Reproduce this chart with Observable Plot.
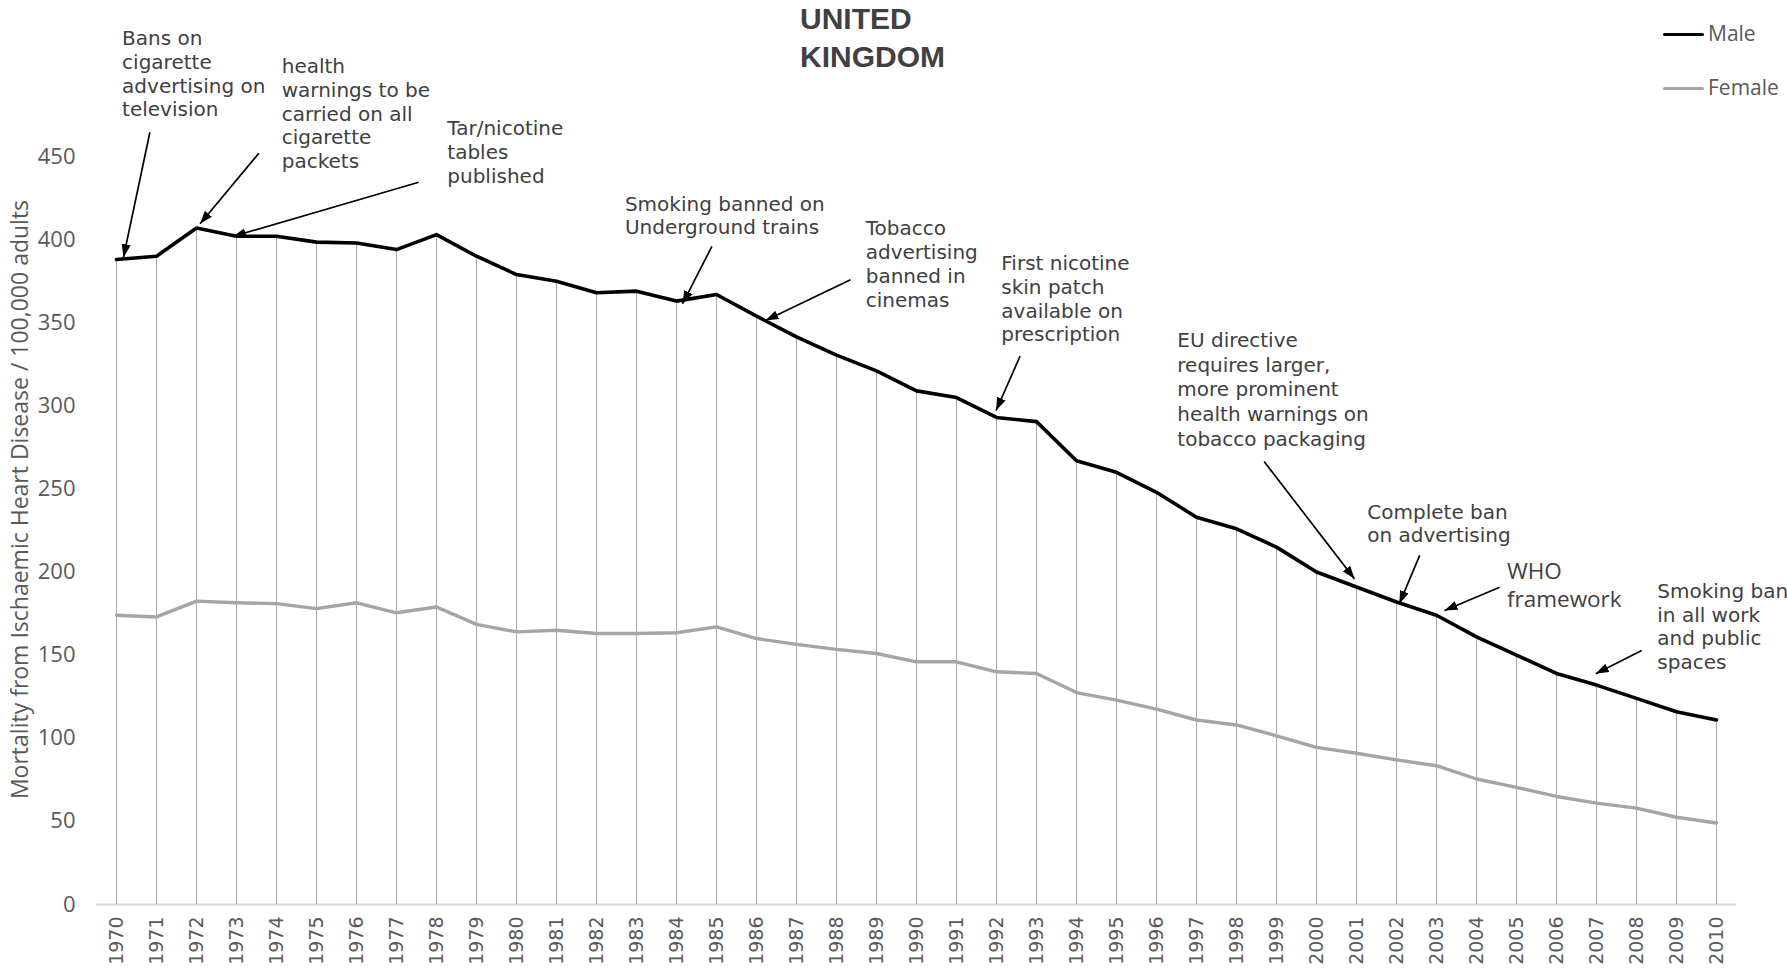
<!DOCTYPE html>
<html>
<head>
<meta charset="utf-8">
<script src="https://cdn.jsdelivr.net/npm/d3@7"></script>
<script src="https://cdn.jsdelivr.net/npm/@observablehq/plot@0.6"></script>
<style>
  html, body { margin: 0; padding: 0; background: #fff; overflow: hidden; }
  #wrap { position: relative; width: 1787px; height: 977px; overflow: hidden; background: #fff; }
  #chart { position: absolute; left: 0; top: 0; }
  #title { position: absolute; left: 800px; top: 0px; font: bold 30px "Liberation Sans", Arial, sans-serif; line-height: 38px; color: #404040; white-space: nowrap; }
  .sw { position: absolute; width: 41px; height: 3px; border-radius: 1.5px; }
  .lg { position: absolute; font: 21px "Open Sans", sans-serif; line-height: 21px; color: #595959; white-space: nowrap; }
</style>
</head>
<body>
<div id="wrap">
  <div id="chart"></div>
  <div id="title"></div>
  <div id="legend"></div>
</div>
<script>
// ---- data ----
const titleLines = ["UNITED", "KINGDOM"];
const years = [1970, 1971, 1972, 1973, 1974, 1975, 1976, 1977, 1978, 1979,
               1980, 1981, 1982, 1983, 1984, 1985, 1986, 1987, 1988, 1989,
               1990, 1991, 1992, 1993, 1994, 1995, 1996, 1997, 1998, 1999,
               2000, 2001, 2002, 2003, 2004, 2005, 2006, 2007, 2008, 2009, 2010];
const male = [388, 390, 407, 402, 402, 398.5, 398, 394, 403, 390,
              379, 375, 368, 369, 363, 367, 354, 341.5, 330.5, 321,
              309, 305, 293, 290.5, 267, 260, 248, 233, 226, 215,
              200, 191, 182, 174, 161, 150, 139, 132, 124, 116, 111];
const female = [174, 173, 182.5, 181.5, 181, 178, 181.5, 175.5, 179, 168.5,
                164, 165, 163, 163, 163.5, 167, 160, 156.5, 153.5, 151,
                146, 146, 140, 139, 127.5, 123, 117.5, 111, 108, 101.5,
                94.5, 91, 87, 83.5, 75.5, 70.5, 65, 61, 58, 52.5, 49];
const seriesNames = ["Male", "Female"];
const yTicks = [0, 50, 100, 150, 200, 250, 300, 350, 400, 450];
const yTitle = "Mortality from Ischaemic Heart Disease / 100,000 adults";

// annotation texts
const annTexts = [
  "Bans on\ncigarette\nadvertising on\ntelevision",
  "health\nwarnings to be\ncarried on all\ncigarette\npackets",
  "Tar/nicotine\ntables\npublished",
  "Smoking banned on\nUnderground trains",
  "Tobacco\nadvertising\nbanned in\ncinemas",
  "First nicotine\nskin patch\navailable on\nprescription",
  "EU directive\nrequires larger,\nmore prominent\nhealth warnings on\ntobacco packaging",
  "Complete ban\non advertising",
  "WHO\nframework",
  "Smoking ban\nin all work\nand public\nspaces"
];
// annotation placement (in data units: year, value)
const annTextYear  = [1970.14, 1974.13, 1978.27, 1982.71, 1988.73, 1992.12, 1996.52, 2001.27, 2004.76, 2008.52];
const annTextValue = [527.0, 510.2, 472.8, 427.6, 412.6, 391.6, 346.0, 242.2, 207.9, 194.6];
const arrowFromYear  = [1970.835, 1973.56, 1977.555, 1984.885, 1988.35, 1992.59, 1998.69, 2002.58, 2004.58, 2008.13];
const arrowFromValue = [464.6, 452.0, 434.5, 395.9, 375.8, 329.9, 266.5, 210.0, 190.9, 152.8];
const arrowToYear    = [1970.175, 1972.09, 1972.91, 1984.15, 1986.225, 1991.99, 2000.95, 2002.07, 2003.2, 2006.98];
const arrowToValue   = [389.4, 409.5, 401.9, 361.4, 351.3, 297.2, 195.9, 180.9, 176.9, 138.8];
const largeAnn = [false, false, false, false, false, false, false, false, true, false];
const annLineHeight = [1.185, 1.185, 1.185, 1.185, 1.185, 1.185, 1.235, 1.185, 1.26, 1.185];

// ---- tables ----
const rows = years.map((year, i) => ({year, male: male[i], female: female[i]}));
const anns = annTexts.map((text, i) => ({
  text, tx: annTextYear[i], ty: annTextValue[i],
  ax: arrowFromYear[i], ay: arrowFromValue[i],
  hx: arrowToYear[i], hy: arrowToValue[i], large: largeAnn[i], lh: annLineHeight[i]
}));

const smallTextMarks = anns.filter(d => !d.large).map(d =>
  Plot.text([d], {x: "tx", y: "ty", text: "text", textAnchor: "start", lineAnchor: "top",
                  lineHeight: d.lh, fontSize: 20, fontFamily: "DejaVu Sans", fill: "#404040"}));

const chart = Plot.plot({
  width: 1787,
  height: 977,
  marginLeft: 96,
  marginRight: 51,
  marginTop: 156,
  marginBottom: 73,
  style: {background: "white", color: "#595959", overflow: "visible"},
  x: {domain: [1969.5, 2010.5]},
  y: {domain: [0, 450]},
  marks: [
    Plot.ruleY([0], {stroke: "#d9d9d9", strokeWidth: 2}),
    Plot.ruleX(rows, {x: "year", y1: 0, y2: "male", stroke: "#ababab", strokeWidth: 1}),
    Plot.line(rows, {x: "year", y: "female", stroke: "#a5a5a5", strokeWidth: 3.4, strokeLinejoin: "round", strokeLinecap: "round"}),
    Plot.line(rows, {x: "year", y: "male", stroke: "#000000", strokeWidth: 3.6, strokeLinejoin: "round", strokeLinecap: "round"}),
    Plot.axisX({ticks: years, tickFormat: d => String(d), tickRotate: -90, tickSize: 0, tickPadding: 12,
                fontSize: 19, fontFamily: "DejaVu Sans", fill: "#595959", label: null}),
    Plot.axisY({ticks: yTicks, tickSize: 0, tickPadding: 21, fontSize: 22, fontFamily: "Open Sans",
                fill: "#595959", label: null}),
    Plot.text([yTitle], {frameAnchor: "left", text: d => d, rotate: -90, textAnchor: "middle", dx: -76, dy: -31,
                         fontSize: 23, fontFamily: "Open Sans", fill: "#595959"}),
    Plot.link(anns, {x1: "ax", y1: "ay", x2: "hx", y2: "hy", stroke: "#000", strokeWidth: 1.7,
                     markerEnd: "arrow", ariaLabel: "annotation arrows"}),
    ...smallTextMarks,
    Plot.text(anns.filter(d => d.large), {x: "tx", y: "ty", text: "text", textAnchor: "start", lineAnchor: "top",
                     lineHeight: 1.26, fontSize: 22.5, fontFamily: "Open Sans", fill: "#404040"})
  ]
});

// filled triangular arrowheads
chart.querySelectorAll("marker").forEach(m => {
  m.setAttribute("viewBox", "-13 -5 13 10");
  m.setAttribute("markerUnits", "userSpaceOnUse");
  m.setAttribute("markerWidth", 13);
  m.setAttribute("markerHeight", 10);
  m.setAttribute("refX", 0);
  m.setAttribute("refY", 0);
  m.setAttribute("fill", "#000");
  m.setAttribute("stroke", "none");
  m.innerHTML = '<path d="M-13,-4.6L0,0L-13,4.6Z"/>';
});

document.getElementById("chart").appendChild(chart);
document.getElementById("title").innerHTML = titleLines.join("<br>");

// legend
const legendColors = ["#000000", "#a5a5a5"];
const legend = document.getElementById("legend");
seriesNames.forEach((name, i) => {
  const sw = document.createElement("div");
  sw.className = "sw";
  sw.style.left = "1663px";
  sw.style.top = (33 + i * 54) + "px";
  sw.style.background = legendColors[i];
  legend.appendChild(sw);
  const lg = document.createElement("div");
  lg.className = "lg";
  lg.style.left = "1708px";
  lg.style.top = (23 + i * 54) + "px";
  lg.textContent = name;
  legend.appendChild(lg);
});
</script>
</body>
</html>
